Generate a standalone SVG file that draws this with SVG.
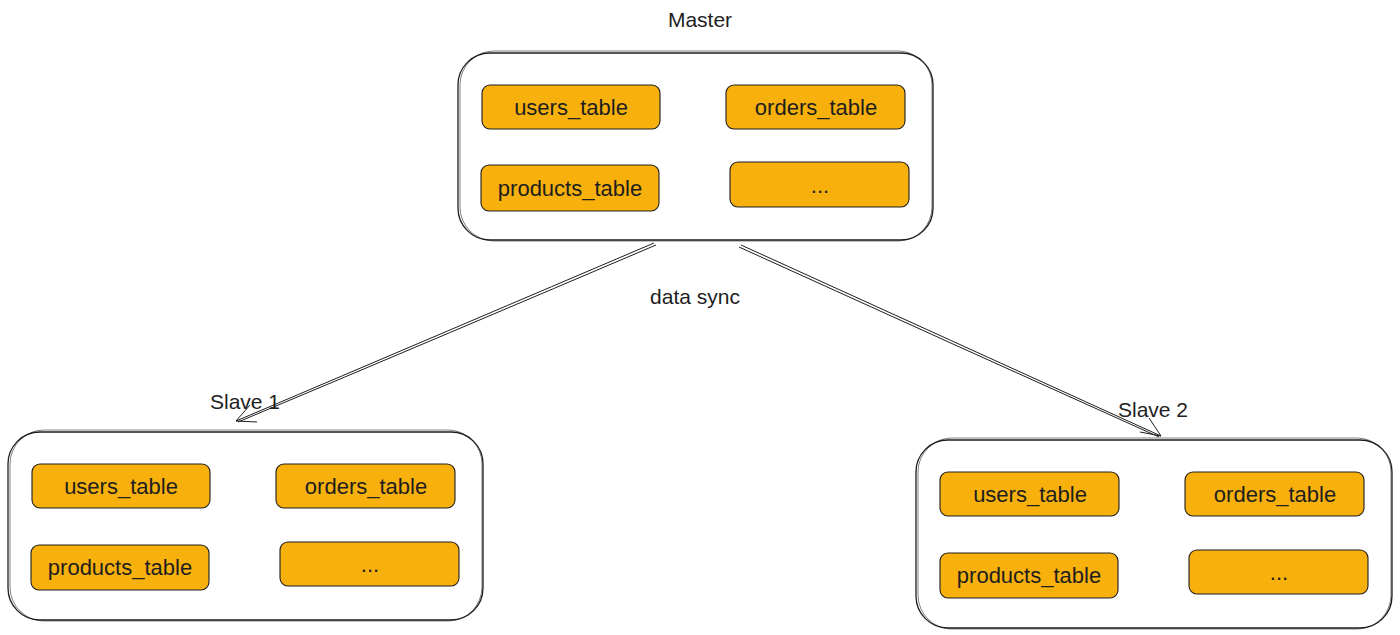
<svg xmlns="http://www.w3.org/2000/svg" width="1400" height="635" viewBox="0 0 1400 635">
<defs>
<style>
.cont{fill:#ffffff;stroke:#1e1e1e;stroke-width:1.3}
.cont2{fill:none;stroke:#1e1e1e;stroke-width:0.8;opacity:0.7}
.tbl{fill:#f7b00c;stroke:#1e1e1e;stroke-width:1.1}
.t{font-family:"Liberation Sans","DejaVu Sans",sans-serif;font-size:22px;fill:#1e1e1e;text-anchor:middle;dominant-baseline:central}
.lbl{font-family:"Liberation Sans","DejaVu Sans",sans-serif;font-size:21px;fill:#1e1e1e;text-anchor:middle;dominant-baseline:central}
.con{fill:none;stroke:#1e1e1e;stroke-width:1}
</style>
</defs>
<rect width="1400" height="635" fill="#ffffff"/>

<g id="master">
<rect class="cont" x="458" y="53" width="475" height="187" rx="32"/>
<rect class="cont2" x="460" y="51" width="472" height="190" rx="34"/>
<text class="lbl" x="700" y="19">Master</text>
<g id="m-users"><rect class="tbl" x="482" y="85" width="178" height="44" rx="8"/><text class="t" x="571" y="107">users_table</text></g>
<g id="m-orders"><rect class="tbl" x="726" y="85" width="179" height="44" rx="8"/><text class="t" x="816" y="107">orders_table</text></g>
<g id="m-products"><rect class="tbl" x="481" y="165" width="178" height="46" rx="8"/><text class="t" x="570" y="188">products_table</text></g>
<g id="m-more"><rect class="tbl" x="730" y="162" width="179" height="45" rx="8"/><text class="t" x="820" y="185">...</text></g>
</g>

<g id="slave1">
<rect class="cont" x="8" y="432" width="475" height="188" rx="32"/>
<rect class="cont2" x="10" y="430" width="472" height="191" rx="34"/>
<text class="lbl" x="245" y="401">Slave 1</text>
<g id="s1-users"><rect class="tbl" x="32" y="464" width="178" height="44" rx="8"/><text class="t" x="121" y="486">users_table</text></g>
<g id="s1-orders"><rect class="tbl" x="276" y="464" width="179" height="44" rx="8"/><text class="t" x="366" y="486">orders_table</text></g>
<g id="s1-products"><rect class="tbl" x="31" y="545" width="178" height="45" rx="8"/><text class="t" x="120" y="567">products_table</text></g>
<g id="s1-more"><rect class="tbl" x="280" y="542" width="179" height="44" rx="8"/><text class="t" x="370" y="564">...</text></g>
</g>

<g id="slave2">
<rect class="cont" x="916" y="440" width="476" height="188" rx="32"/>
<rect class="cont2" x="918" y="438" width="473" height="191" rx="34"/>
<text class="lbl" x="1153" y="409">Slave 2</text>
<g id="s2-users"><rect class="tbl" x="940" y="472" width="179" height="44" rx="8"/><text class="t" x="1030" y="494">users_table</text></g>
<g id="s2-orders"><rect class="tbl" x="1185" y="472" width="179" height="44" rx="8"/><text class="t" x="1275" y="494">orders_table</text></g>
<g id="s2-products"><rect class="tbl" x="940" y="553" width="178" height="45" rx="8"/><text class="t" x="1029" y="575">products_table</text></g>
<g id="s2-more"><rect class="tbl" x="1189" y="550" width="179" height="44" rx="8"/><text class="t" x="1279" y="572">...</text></g>
</g>

<g id="connectors">
<path class="con" d="M654 243 Q 450 330 236 421"/>
<path class="con" d="M656 245 Q 452 332 238 422"/>
<path class="con" d="M236 421 L 257 422 M236 421 L 250 405"/>
<path class="con" d="M741 245 Q 950 340 1161 436"/>
<path class="con" d="M739 247 Q 948 342 1159 437"/>
<path class="con" d="M1161 436 L 1140 432 M1161 436 L 1149 418"/>
<text class="lbl" x="695" y="296">data sync</text>
</g>
</svg>
